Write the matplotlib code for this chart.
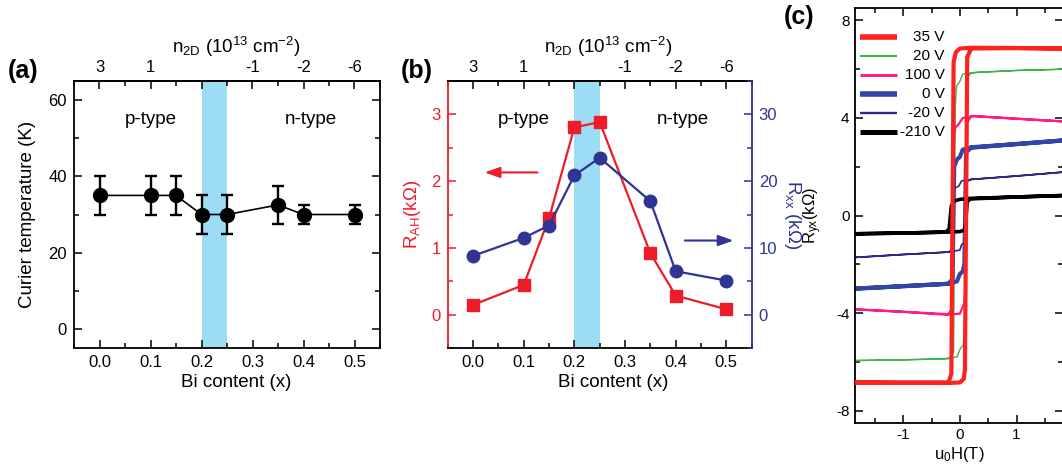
import matplotlib
matplotlib.use('Agg')
import matplotlib.pyplot as plt
from matplotlib.ticker import MultipleLocator, FormatStrFormatter

plt.rcParams['font.family'] = ['Liberation Sans', 'DejaVu Sans']
plt.rcParams['mathtext.default'] = 'regular'
plt.rcParams['axes.unicode_minus'] = False

# ---------------- data ----------------
bi_content = [0.0, 0.1, 0.15, 0.2, 0.25, 0.35, 0.4, 0.5]
curie_temp = [35, 35, 35, 30, 30, 32.5, 30, 30]
curie_err = [5, 5, 5, 5, 5, 5, 2.5, 2.5]

r_ah = [0.145, 0.445, 1.445, 2.805, 2.885, 0.92, 0.285, 0.08]
r_xx = [8.8, 11.5, 13.35, 20.85, 23.5, 17.0, 6.5, 5.1]

n2d_tick_pos = [0.0, 0.1, 0.2, 0.3, 0.4, 0.5]
n2d_tick_labels = ['3', '1', '', '-1', '-2', '-6']
band_lo, band_hi = 0.2, 0.25

# hysteresis loops (descending branch then ascending branch)
H_35V = [1.82, 1.0, 0.2, 0.0, -0.07, -0.11, -0.15, -0.2, -1.0, -1.85,
         -1.0, -0.2, 0.0, 0.07, 0.09, 0.13, 0.2, 1.0, 1.82]
R_35V = [6.85, 6.87, 6.88, 6.85, 6.7, 6.3, -6.5, -6.85, -6.86, -6.85,
         -6.86, -6.87, -6.85, -6.7, -6.3, 6.5, 6.85, 6.87, 6.85]

H_20V = [1.82, 1.0, 0.3, 0.05, 0.0, -0.06, -0.08, -0.11, -0.2, -1.0, -1.85,
         -1.0, -0.3, -0.05, 0.0, 0.06, 0.08, 0.11, 0.2, 1.0, 1.82]
R_20V = [6.0, 5.95, 5.88, 5.8, 5.5, 5.3, 4.5, -5.6, -5.88, -5.92, -5.95,
         -5.92, -5.88, -5.8, -5.5, -5.3, -4.5, 5.6, 5.85, 5.95, 6.0]

H_100V = [1.82, 1.0, 0.25, 0.05, -0.02, -0.08, -0.11, -0.14, -0.2, -1.0, -1.85,
          -1.0, -0.25, 0.0, 0.05, 0.08, 0.1, 0.13, 0.2, 1.0, 1.82]
R_100V = [3.86, 3.97, 4.08, 4.0, 3.75, 3.6, 3.0, -3.8, -4.05, -3.95, -3.85,
          -3.95, -4.07, -4.03, -3.75, -3.6, -3.0, 3.8, 4.08, 3.97, 3.86]

H_0V = [1.82, 1.0, 0.2, 0.05, 0.0, -0.05, -0.1, -0.13, -0.2, -1.0, -1.85,
        -1.0, -0.2, -0.05, 0.0, 0.05, 0.08, 0.11, 0.2, 1.0, 1.82]
R_0V = [3.08, 2.93, 2.8, 2.7, 2.4, 2.3, 2.0, -2.6, -2.8, -2.9, -3.0,
        -2.9, -2.8, -2.7, -2.4, -2.3, -2.0, 2.6, 2.78, 2.93, 3.08]

H_m20V = [1.82, 1.0, 0.2, 0.03, -0.02, -0.12, -0.15, -0.2, -1.0, -1.85,
          -1.0, -0.2, 0.0, 0.03, 0.09, 0.12, 0.2, 1.0, 1.82]
R_m20V = [1.78, 1.62, 1.48, 1.42, 1.2, 1.1, -1.4, -1.5, -1.6, -1.72,
          -1.6, -1.5, -1.42, -1.2, -1.1, 1.4, 1.48, 1.62, 1.78]

H_m210V = [1.82, 1.0, 0.15, 0.0, -0.1, -0.15, -0.19, -0.25, -1.0, -1.85,
           -1.0, -0.2, 0.0, 0.08, 0.1, 0.13, 0.18, 1.0, 1.82]
R_m210V = [0.82, 0.76, 0.7, 0.66, 0.6, 0.4, -0.55, -0.68, -0.72, -0.75,
           -0.72, -0.68, -0.66, -0.6, -0.4, 0.55, 0.68, 0.76, 0.82]

gate_labels = ['35 V', '20 V', '100 V', '0 V', '-20 V', '-210 V']

# ---------------- style ----------------
RED = '#ee1c2a'
BLUE = '#2e3592'
BAND = '#9cdcf5'
c_red = '#ff2020'
c_green = '#3cb54a'
c_mag = '#ff1a8a'
c_blue = '#3146a6'
c_navy = '#2b2a85'
c_black = '#000000'

LAB = 13.5
TCK = 12

fig = plt.figure(figsize=(10.62, 4.68), dpi=100)
W, Hh = 1062.0, 468.0


def rect(l, r, t, b):
    return [l / W, (Hh - b) / Hh, (r - l) / W, (b - t) / Hh]


def top_axis(ax, xc):
    sec = ax.secondary_xaxis('top')
    sec.set_xticks(n2d_tick_pos, labels=n2d_tick_labels)
    sec.xaxis.set_minor_locator(MultipleLocator(0.05))
    sec.tick_params(which='both', direction='in')
    sec.tick_params(which='major', length=6, width=1.1, labelsize=TCK, pad=4)
    sec.tick_params(which='minor', length=3.5, width=1.1)
    sec.spines['top'].set_linewidth(1.3)
    sec.set_xlabel('n$_{2D}$ (10$^{13}$ cm$^{-2}$)', fontsize=LAB, labelpad=5)
    sec.xaxis.label.set_x(xc)
    return sec


# ---------------- panel (a) ----------------
axa = fig.add_axes(rect(74, 380, 81, 348))
axa.axvspan(band_lo, band_hi, color=BAND, lw=0, zorder=0)
axa.errorbar(bi_content, curie_temp, yerr=curie_err, fmt='-o', color='black',
             ms=10, lw=1.2, elinewidth=1.7, capsize=4.5, capthick=1.7, zorder=3)
axa.set_xlim(-0.05, 0.55)
axa.set_ylim(-5, 65)
axa.xaxis.set_major_locator(MultipleLocator(0.1))
axa.xaxis.set_minor_locator(MultipleLocator(0.05))
axa.yaxis.set_major_locator(MultipleLocator(20))
axa.yaxis.set_minor_locator(MultipleLocator(10))
axa.xaxis.set_major_formatter(FormatStrFormatter('%.1f'))
axa.tick_params(which='both', direction='in', top=False, right=True)
axa.tick_params(which='major', length=6, width=1.1, labelsize=TCK, pad=5)
axa.tick_params(which='minor', length=3.5, width=1.1)
for s in axa.spines.values():
    s.set_linewidth(1.3)
axa.set_xlabel('Bi content (x)', fontsize=LAB, labelpad=3)
axa.xaxis.label.set_x(0.53)
axa.set_ylabel('Curier temperature (K)', fontsize=LAB)
axa.yaxis.set_label_coords(-0.125, 0.5)
axa.text(0.1, 55, 'p-type', fontsize=LAB, ha='center', va='center')
axa.text(0.415, 55, 'n-type', fontsize=LAB, ha='center', va='center')
top_axis(axa, 0.53)

# ---------------- panel (b) ----------------
axb = fig.add_axes(rect(447.7, 751.7, 81, 348))
axb2 = axb.twinx()
axb.axvspan(band_lo, band_hi, color=BAND, lw=0, zorder=0)
axb.plot(bi_content, r_ah, '-s', color=RED, ms=8, lw=1.6, zorder=3)
axb2.plot(bi_content, r_xx, '-o', color=BLUE, ms=9, lw=1.6, zorder=3)
axb.set_xlim(-0.05, 0.55)
axb.set_ylim(-0.5, 3.5)
axb2.set_ylim(-5, 35)
axb.xaxis.set_major_locator(MultipleLocator(0.1))
axb.xaxis.set_minor_locator(MultipleLocator(0.05))
axb.xaxis.set_major_formatter(FormatStrFormatter('%.1f'))
axb.yaxis.set_major_locator(MultipleLocator(1))
axb.yaxis.set_minor_locator(MultipleLocator(0.5))
axb2.yaxis.set_major_locator(MultipleLocator(10))
axb2.yaxis.set_minor_locator(MultipleLocator(5))
axb.tick_params(which='both', direction='in', top=False, right=False)
axb.tick_params(which='major', length=6, width=1.1, labelsize=TCK, pad=5)
axb.tick_params(which='minor', length=3.5, width=1.1)
axb.tick_params(axis='y', which='both', colors=RED)
axb.tick_params(axis='x', which='both', colors='black')
axb2.tick_params(which='both', direction='in', colors=BLUE)
axb2.tick_params(which='major', length=6, width=1.1, labelsize=TCK, pad=5)
axb2.tick_params(which='minor', length=3.5, width=1.1)
for s in axb.spines.values():
    s.set_linewidth(1.3)
axb.spines['left'].set_color(RED)
axb.spines['right'].set_visible(False)
for k in ['left', 'top', 'bottom']:
    axb2.spines[k].set_visible(False)
axb2.spines['right'].set_color(BLUE)
axb2.spines['right'].set_linewidth(1.3)
axb.set_xlabel('Bi content (x)', fontsize=LAB, labelpad=3)
axb.xaxis.label.set_x(0.545)
axb.set_ylabel('R$_{AH}$(kΩ)', fontsize=LAB, color=RED)
axb.yaxis.set_label_coords(-0.082, 0.5)
axb2.set_ylabel('R$_{xx}$ (kΩ)', fontsize=LAB, color=BLUE, rotation=270, va='bottom')
axb2.yaxis.set_label_coords(1.1, 0.5)
axb.text(0.1, 2.93, 'p-type', fontsize=LAB, ha='center', va='center')
axb.text(0.415, 2.93, 'n-type', fontsize=LAB, ha='center', va='center')
axb.annotate('', xy=(0.023, 2.13), xytext=(0.127, 2.13),
             arrowprops=dict(arrowstyle='-|>,head_length=0.7,head_width=0.25',
                             color=RED, lw=1.5, mutation_scale=13, shrinkA=0, shrinkB=0))
axb2.annotate('', xy=(0.514, 11.1), xytext=(0.418, 11.1),
              arrowprops=dict(arrowstyle='-|>,head_length=0.7,head_width=0.25',
                              color=BLUE, lw=1.5, mutation_scale=13, shrinkA=0, shrinkB=0))
top_axis(axb, 0.527)

# ---------------- panel (c) ----------------
axc = fig.add_axes(rect(855, 1063, 8.3, 422.7))
curves = [
    (H_35V, R_35V, c_red, 3.0),
    (H_20V, R_20V, c_green, 1.0),
    (H_100V, R_100V, c_mag, 1.6),
    (H_0V, R_0V, c_blue, 3.0),
    (H_m20V, R_m20V, c_navy, 1.2),
    (H_m210V, R_m210V, c_black, 2.6),
]
draw_order = [1, 2, 3, 4, 5, 0]
for i in draw_order:
    h, r, c, lw = curves[i]
    axc.plot(h, r, color=c, lw=lw, solid_joinstyle='round', zorder=2 + (i == 0))
axc.set_xlim(-1.85, 1.82)
axc.set_ylim(-8.5, 8.5)
axc.xaxis.set_major_locator(MultipleLocator(1))
axc.xaxis.set_minor_locator(MultipleLocator(0.5))
axc.yaxis.set_major_locator(MultipleLocator(4))
axc.yaxis.set_minor_locator(MultipleLocator(2))
axc.tick_params(which='both', direction='in', top=True, right=True)
axc.tick_params(which='major', length=6, width=1.1, labelsize=11, pad=4)
axc.tick_params(which='minor', length=3.5, width=1.1)
for s in axc.spines.values():
    s.set_linewidth(1.3)
axc.set_xlabel('u$_0$H(T)', fontsize=12, labelpad=2)
axc.set_ylabel('R$_{yx}$(kΩ)', fontsize=12)
axc.yaxis.set_label_coords(-0.15, 0.5)

# legend (handles left, labels right-aligned)
y0 = 0.931
dy = 0.0459
for k, (lab, (h, r, c, lw)) in enumerate(zip(gate_labels, curves)):
    yy = y0 - k * dy
    axc.plot([0.024, 0.2], [yy, yy], transform=axc.transAxes, color=c,
             lw=lw + 1.0 if lw > 2 else lw + 0.5, solid_capstyle='butt', zorder=5)
    axc.text(0.43, yy, lab, transform=axc.transAxes, fontsize=11,
             ha='right', va='center', zorder=6)

# panel labels
fig.text(8 / W, 1 - 71 / Hh, '(a)', fontsize=18, fontweight='bold', va='center', ha='left')
fig.text(401 / W, 1 - 71 / Hh, '(b)', fontsize=18, fontweight='bold', va='center', ha='left')
fig.text(784 / W, 1 - 17 / Hh, '(c)', fontsize=18, fontweight='bold', va='center', ha='left')

fig.savefig('out.png', dpi=100)
